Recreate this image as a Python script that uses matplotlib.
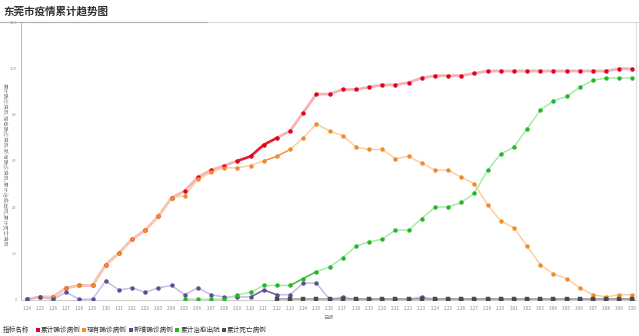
import numpy as np
import matplotlib
matplotlib.use('Agg')
import matplotlib.pyplot as plt
from matplotlib.lines import Line2D

plt.rcParams['font.family'] = ['Noto Sans CJK SC', 'DejaVu Sans']

nan = np.nan

dates = ['1.24', '1.25', '1.26', '1.27', '1.28', '1.29', '1.30', '1.31',
         '2.01', '2.02', '2.03', '2.04', '2.05', '2.06', '2.07', '2.08', '2.09',
         '2.10', '2.11', '2.12', '2.13', '2.14', '2.15', '2.16', '2.17', '2.18',
         '2.19', '2.20', '2.21', '2.22', '2.23', '2.24', '2.25', '2.26', '2.27',
         '2.28', '2.29', '3.01', '3.02', '3.03', '3.04', '3.05', '3.06', '3.07',
         '3.08', '3.09', '3.10']

# 累计确诊病例
confirmed = [0, 1, 1, 5, 6, 6, 15, 20, 26, 30, 36, 44, 47, 53, 56, 58, 60,
             62, 67, 70, 73, 81, 89, 89, 91, 91, 92, 93, 93, 94, 96, 97, 97,
             97, 98, 99, 99, 99, 99, 99, 99, 99, 99, 99, 99, 100, 100]
# 现有确诊病例
current = [0, 1, 1, 5, 6, 6, 15, 20, 26, 30, 36, 44, 45, 52, 55, 57, 57,
           58, 60, 62, 65, 70, 76, 73, 71, 66, 65, 65, 61, 62, 59, 56, 56,
           53, 50, 41, 34, 31, 23, 15, 11, 9, 5, 2, 1, 2, 2]
# 新增确诊病例
new_cases = [0, 1, 0, 3, 0, 0, 8, 4, 5, 3, 5, 6, 2, 5, 2, 1, 1,
             1, 4, 2, 2, 7, 7, 0, 1, 0, 0, 0, 0, 0, 1, 0, 0,
             0, 0, 0, 0, 0, 0, 0, 0, 0, 0, 0, 0, 0, 0]
# 累计治愈出院
cured = [nan] * 12 + [0, 0, 0, 0, 2, 3, 6, 6, 6, 9, 12, 14, 18, 23, 25,
                      26, 30, 30, 35, 40, 40, 42, 46, 56, 63, 66, 74, 82,
                      86, 88, 92, 95, 96, 96, 96]
# 累计死亡病例
deaths = [nan] * 19 + [0] * 28

series = [
    ('累计确诊病例', confirmed, '#e3001b', '#f6b3b6', 2.0, 'o', (16, 20)),
    ('现有确诊病例', current, '#f08a2c', '#fbcf9f', 1.1, 'o', (18, 21)),
    ('新增确诊病例', new_cases, '#5a4c92', '#c4bde6', 1.1, 'o', (17, 20)),
    ('累计治愈出院', cured, '#22b822', '#a6eca6', 1.1, 'o', (20, 23)),
    ('累计死亡病例', deaths, '#4a4a4a', '#9a9a9a', 1.1, 's', None),
]

x = np.arange(len(dates))

fig = plt.figure(figsize=(6.39, 3.36), dpi=100)
ax = fig.add_axes([21 / 639, 1 - 300 / 336, (636 - 21) / 639, (300 - 22.6) / 336])

for name, vals, mc, lc, lw, mk, dark in series:
    v = np.array(vals, dtype=float)
    ax.plot(x, v, color=lc, lw=lw, zorder=2)
    if dark is not None:
        a, b = dark
        ax.plot(x[a:b], v[a:b], color=mc, lw=lw * 0.9, alpha=0.85, zorder=2.5)
    ax.plot(x, v, ls='none', marker=mk, ms=2.8, mfc=mc, mec=mc, mew=0.3, zorder=3)

ax.set_xlim(-0.43, 46.27)
ax.set_ylim(-0.3, 120)
ax.set_yticks([0, 20, 40, 60, 80, 100, 120])
ax.set_xticks(x)
ax.set_xticklabels(dates)
ax.tick_params(axis='x', length=0, labelsize=3.3, colors='#888888', pad=4)
ax.tick_params(axis='y', length=0, labelsize=3.0, colors='#999999', pad=3)

ax.spines['top'].set_visible(False)
ax.spines['left'].set_color('#bbbbbb')
ax.spines['left'].set_linewidth(0.8)
ax.spines['bottom'].set_color('#d0d0d0')
ax.spines['bottom'].set_linewidth(0.8)
ax.spines['right'].set_color('#e0e0e0')
ax.spines['right'].set_linewidth(0.8)

ax.set_xlabel('日期', fontsize=3.6, color='#888888', labelpad=3)
fig.text(5 / 639, 1 - 165 / 336, '累计确诊病例,现有确诊病例,新增确诊病例,累计治愈出院,累计死亡病例',
         rotation=270, fontsize=3.8, color='#888888', ha='center', va='center')

# title and underline
fig.text(3 / 639, 1 - 12 / 336, '东莞市疫情累计趋势图', fontsize=7.6, fontweight='bold',
         color='#333333', ha='left', va='center')
fig.add_artist(Line2D([0, 1], [1 - 22 / 336] * 2, color='#d8d8d8', lw=0.8))
fig.add_artist(Line2D([0, 207 / 639], [1 - 22 / 336] * 2, color='#b0b0b0', lw=0.8))

# legend row
ly = 1 - 330 / 336
fig.text(3 / 639, ly, '指标名称', fontsize=4.8, color='#333333', ha='left', va='center')
for i, (name, vals, mc, lc, lw, mk, dark) in enumerate(series):
    x0 = 37.5 + i * 46.6
    fig.add_artist(Line2D([x0 / 639], [ly], ls='none', marker='s', ms=2.6,
                          mfc=mc, mec=mc, mew=0))
    fig.text((x0 + 3) / 639, ly, name, fontsize=4.8, color='#333333',
             ha='left', va='center')

fig.savefig('out.png', dpi=100)
